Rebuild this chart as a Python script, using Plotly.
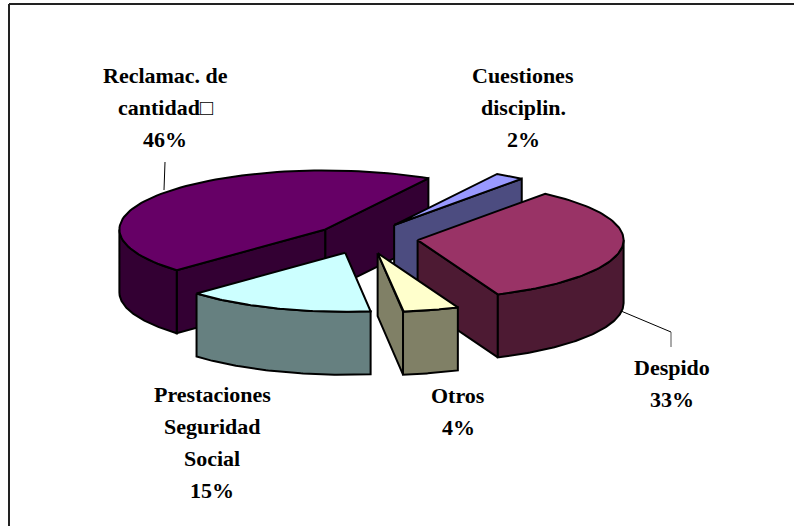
import numpy as np
import plotly.graph_objects as go

# slices in clockwise order, starting at the back right
categories = ["Cuestiones disciplin.", "Despido", "Otros", "Prestaciones Seguridad Social", "Reclamac. de cantidad"]
values = [2.3, 33, 4.4, 14.8, 45.5]
label_lines = [
    ["Cuestiones", "disciplin.", "2%"],
    ["Despido", "33%"],
    ["Otros", "4%"],
    ["Prestaciones", "Seguridad", "Social", "15%"],
    ["Reclamac. de", "cantidad\u25a1", "46%"],
]
top_colors = ["#9999FF", "#993366", "#FFFFCC", "#CCFFFF", "#660066"]
side_colors = ["#4C4C80", "#4D1A33", "#808066", "#668080", "#330033"]
explode = [0.265, 0.265, 0.265, 0.265, 0.235]

# pie projection, in page pixels
CX, CY = 363.5, 238
RX, RY = 206, 59
DEPTH = 63
START = 60
LINE = dict(color="black", width=2)

label_x = [523, 672, 458, 212, 165]
label_y = [75, 367, 395, 394, 75]
LINE_STEP = 32


def add_poly(fig, xs, ys, color):
    fig.add_trace(go.Scatter(x=xs, y=ys, mode="lines", fill="toself", fillcolor=color,
                             line=LINE, hoverinfo="skip", showlegend=False))


def arc(ax, ay, t0, t1):
    t = np.radians(np.linspace(t0, t1, 80))
    return ax + RX * np.cos(t), ay - RY * np.sin(t)


def add_slice(fig, i, t0, t1):
    mid = np.radians((t0 + t1) / 2)
    ax = CX + explode[i] * RX * np.cos(mid)
    ay = CY - explode[i] * RY * np.sin(mid)
    top_x, top_y = arc(ax, ay, t0, t1)

    # radial walls that face the viewer
    if np.cos(np.radians(t1)) < 0:
        add_poly(fig, [ax, top_x[-1], top_x[-1], ax, ax],
                 [ay, top_y[-1], top_y[-1] + DEPTH, ay + DEPTH, ay], side_colors[i])
    if np.cos(np.radians(t0)) > 0:
        add_poly(fig, [ax, top_x[0], top_x[0], ax, ax],
                 [ay, top_y[0], top_y[0] + DEPTH, ay + DEPTH, ay], side_colors[i])

    # curved wall, only the lower half of the ellipse shows
    if t1 > 180:
        low0, low1 = 180, t1
    elif t0 < 0:
        low0, low1 = t0, min(t1, 0)
    else:
        low0 = low1 = None
    if low0 is not None:
        wx, wy = arc(ax, ay, low0, low1)
        add_poly(fig, np.r_[wx, wx[::-1], wx[0]], np.r_[wy, wy[::-1] + DEPTH, wy[0]], side_colors[i])

    add_poly(fig, np.r_[ax, top_x, ax], np.r_[ay, top_y, ay], top_colors[i])


# sweep clockwise from the start angle
spans = []
a = START
for v in values:
    spans.append((a - v * 3.6, a))
    a -= v * 3.6
spans[-1] = (spans[-1][0] + 360, spans[-1][1] + 360)

fig = go.Figure()
for i in [4, 0, 1, 3, 2]:  # back to front
    add_slice(fig, i, *spans[i])

annotations = []
for i, lines in enumerate(label_lines):
    for j, txt in enumerate(lines):
        annotations.append(dict(x=label_x[i], y=label_y[i] + j * LINE_STEP, text="<b>" + txt + "</b>",
                                showarrow=False, xref="x", yref="y",
                                font=dict(family="Liberation Serif", size=22, color="black")))

shapes = [
    dict(type="line", x0=9, x1=794, y0=4, y1=4, line=dict(color="#222222", width=2)),
    dict(type="line", x0=9, x1=9, y0=4, y1=526, line=dict(color="#222222", width=2)),
    dict(type="line", x0=164, y0=190, x1=165, y1=162, line=dict(color="black", width=1)),
    dict(type="line", x0=621, y0=311, x1=671, y1=332, line=dict(color="black", width=1)),
    dict(type="line", x0=671, y0=332, x1=671, y1=347, line=dict(color="#555555", width=1)),
]

fig.update_layout(
    width=794, height=526, margin=dict(l=0, r=0, t=0, b=0),
    paper_bgcolor="white", plot_bgcolor="white", showlegend=False,
    xaxis=dict(range=[0, 794], visible=False, fixedrange=True),
    yaxis=dict(range=[526, 0], visible=False, fixedrange=True),
    annotations=annotations, shapes=shapes,
)
# the page's default body margin would push everything 8px off
fig.write_html("out.html", config=dict(displayModeBar=False),
               post_script="document.body.style.margin='0';document.body.style.overflow='hidden';")
